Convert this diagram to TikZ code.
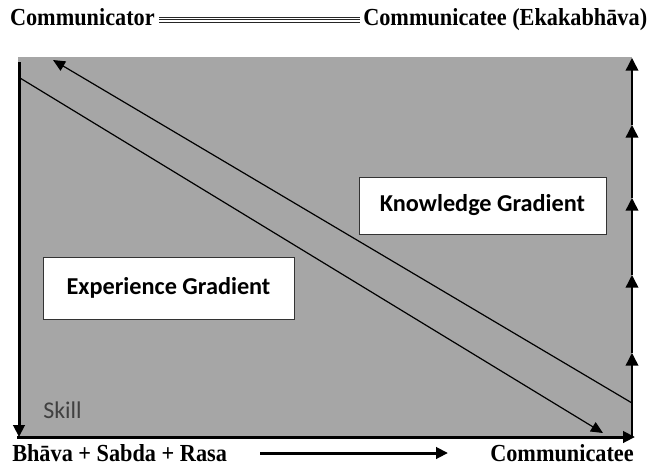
\documentclass[tikz,border=0pt]{standalone}
\usepackage{fontspec}
\setmainfont{Liberation Serif}
\newfontfamily\calfont{Carlito}
\usetikzlibrary{arrows.meta}
\definecolor{bggray}{RGB}{166,166,166}
\definecolor{skillgray}{RGB}{64,64,64}
\newcommand\tallt[1]{\scalebox{1}[1.1]{#1}}
\begin{document}
\begin{tikzpicture}[x=0.75pt,y=-0.75pt,
  lbl/.style={font=\fontsize{16.7}{18}\selectfont\bfseries, inner sep=0pt},
  gbox/.style={draw=black!80, line width=0.75pt, fill=white, font=\calfont\fontsize{18.2}{20}\selectfont\bfseries, inner sep=0pt},
  thickarrow/.style={line width=2.25pt, -{Triangle[length=9pt,width=8.5pt]}},
  thinarrow/.style={line width=0.9pt, -{Triangle[length=9pt,width=8pt]}},
  sidearrow/.style={line width=1.1pt, -{Triangle[length=9.5pt,width=9.5pt]}},
  tripleline/.style={line width=0.6pt, black!85},
]
\useasboundingbox (0,0) rectangle (648,467);
% background panel
\fill[bggray] (18,57) rectangle (632,437);

% top labels
\node[lbl, anchor=base east] (comm) at (155,26) {\tallt{Communicator}};
\node[lbl, anchor=base west] (commee) at (363,26) {\tallt{Communicatee (Ekakabh\=ava)}};
\coordinate (t1) at (159,17); \coordinate (t2) at (360,17);
\coordinate (t3) at (159,19.7); \coordinate (t4) at (360,19.7);
\coordinate (t5) at (159,22.4); \coordinate (t6) at (360,22.4);
\draw[tripleline] (t1) -- (t2);
\draw[tripleline] (t3) -- (t4);
\draw[tripleline] (t5) -- (t6);

% boxes
\node[gbox, minimum width=185.25pt, minimum height=42.75pt] (know) at (482.5,205.5) {Knowledge Gradient};
\node[gbox, minimum width=188.25pt, minimum height=46.5pt] (exp) at (168.5,288) {Experience Gradient};

% skill
\node[font=\calfont\fontsize{18}{20}\selectfont, text=skillgray, inner sep=0pt, anchor=base west] (skill) at (43,418) {Skill};

% diagonal arrows
\coordinate (d1s) at (20,78);
\coordinate (d1e) at (603,433);
\coordinate (d2s) at (632,403);
\coordinate (d2e) at (53,60);
\draw[thinarrow] (d1s) -- (d1e);
\draw[thinarrow] (d2s) -- (d2e);

% left thick axis
\coordinate (ltop) at (19,62);
\coordinate (lbot) at (19,437);
\draw[thickarrow] (ltop) -- (lbot);

% bottom thick axis
\coordinate (bl) at (17,437);
\coordinate (br) at (635,437);
\draw[thickarrow] (bl) -- (br);

% right axis with arrowheads
\coordinate (r0) at (632,437);
\coordinate (r1) at (632,353);
\coordinate (r2) at (632,275);
\coordinate (r3) at (632,198);
\coordinate (r4) at (632,125);
\coordinate (r5) at (632,58);
\draw[sidearrow] (r0) -- (r1);
\draw[sidearrow] (r1) -- (r2);
\draw[sidearrow] (r2) -- (r3);
\draw[sidearrow] (r3) -- (r4);
\draw[sidearrow] (r4) -- (r5);

% bottom labels
\node[lbl, anchor=base west] (bsr) at (12,461) {\tallt{Bh\=ava + Sabda + Rasa}};
\node[lbl, anchor=base east] (bcomm) at (634,461) {\tallt{Communicatee}};
\coordinate (a1) at (260,453);
\coordinate (a2) at (448,453);
\draw[thickarrow] (a1) -- (a2);
\end{tikzpicture}
\end{document}
